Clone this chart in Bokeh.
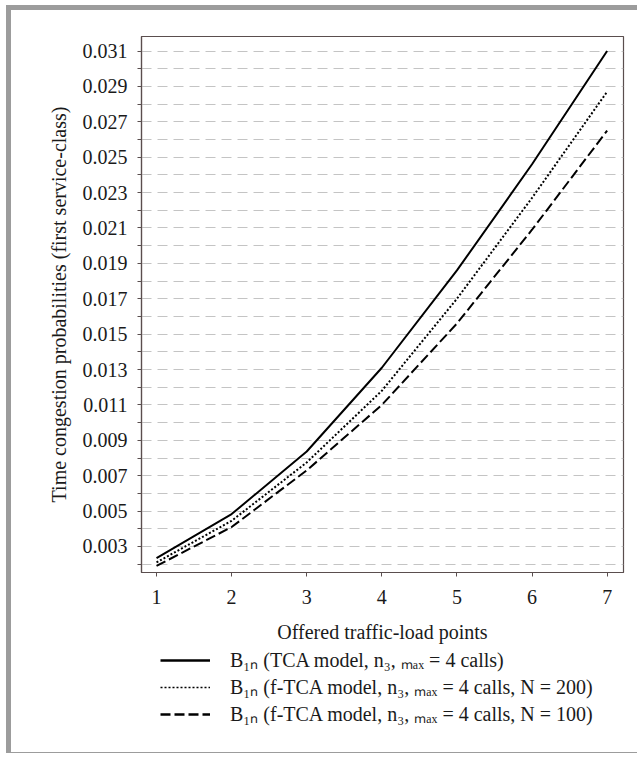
from bokeh.plotting import figure
from bokeh.layouts import column
from bokeh.models import FixedTicker, Legend, LegendItem, PrintfTickFormatter, Range1d
from bokeh.embed import file_html
from bokeh.resources import INLINE

# ---- data ----
load_points = [1, 2, 3, 4, 5, 6, 7]
b1n_tca = [0.00234, 0.00483, 0.00837, 0.0131, 0.0186, 0.0246, 0.0310]
b1n_ftca_n200 = [0.0021, 0.00445, 0.00775, 0.0118, 0.0170, 0.0227, 0.0287]
b1n_ftca_n100 = [0.0019, 0.0041, 0.0073, 0.0110, 0.0156, 0.0209, 0.0265]

x_ticks = [1, 2, 3, 4, 5, 6, 7]
y_major_ticks = [0.003, 0.005, 0.007, 0.009, 0.011, 0.013, 0.015, 0.017,
                 0.019, 0.021, 0.023, 0.025, 0.027, 0.029, 0.031]
y_minor_ticks = [0.002, 0.004, 0.006, 0.008, 0.010, 0.012, 0.014, 0.016,
                 0.018, 0.020, 0.022, 0.024, 0.026, 0.028, 0.030]

series_labels = [
    "B\u2081\u2099 (TCA model, n\u2083, \u2098\u2090\u2093 = 4 calls)",
    "B\u2081\u2099 (f-TCA model, n\u2083, \u2098\u2090\u2093 = 4 calls, N = 200)",
    "B\u2081\u2099 (f-TCA model, n\u2083, \u2098\u2090\u2093 = 4 calls, N = 100)",
]
x_title = "Offered traffic-load points"
y_title = "Time congestion probabilities (first service-class)"

FONT = "Liberation Serif"
TXT = "#1a1a1a"
AX = "#5a4e4e"
GREY = "#9c9c9c"
DASHES = ["solid", "2 2", "10 4"]

# ---------------- main chart ----------------
p = figure(frame_width=482, frame_height=536, output_backend="svg", toolbar_location=None,
           x_range=Range1d(0.8, 7.218), y_range=Range1d(0.00153, 0.03182),
           min_border_left=130, min_border_right=14, min_border_top=26,
           min_border_bottom=72)
p.background_fill_color = "white"
p.border_fill_color = "white"
p.outline_line_color = AX
p.outline_line_width = 1.2

p.xgrid.grid_line_color = None
p.ygrid.grid_line_color = "#c4c4c4"
p.ygrid.grid_line_dash = "10 6"
p.ygrid.grid_line_width = 1.2
p.ygrid.minor_grid_line_color = "#c4c4c4"
p.ygrid.minor_grid_line_dash = "10 6"
p.ygrid.minor_grid_line_width = 1.2

p.xaxis.ticker = FixedTicker(ticks=x_ticks)
p.yaxis.ticker = FixedTicker(ticks=y_major_ticks, minor_ticks=y_minor_ticks)
p.ygrid.ticker = p.yaxis.ticker
p.yaxis.formatter = PrintfTickFormatter(format="%.3f")
for ax in (p.xaxis, p.yaxis):
    ax.axis_line_color = AX
    ax.axis_line_width = 1.2
    ax.major_tick_line_color = AX
    ax.major_tick_in = 0
    ax.major_tick_out = 4
    ax.minor_tick_line_color = AX
    ax.minor_tick_in = 0
    ax.minor_tick_out = 4
    ax.major_label_text_font = FONT
    ax.major_label_text_font_size = "20px"
    ax.major_label_text_color = TXT
    ax.axis_label_text_font = FONT
    ax.axis_label_text_font_size = "20px"
    ax.axis_label_text_font_style = "normal"
    ax.axis_label_text_color = TXT
p.xaxis.minor_tick_line_color = None
p.xaxis.axis_label = x_title
p.yaxis.axis_label = y_title
p.xaxis.major_label_standoff = 13
p.xaxis.axis_label_standoff = 14
p.yaxis.major_label_standoff = 10
p.yaxis.axis_label_standoff = 10

series = [b1n_tca, b1n_ftca_n200, b1n_ftca_n100]
for ys, dash in zip(series, DASHES):
    p.line(load_points, ys, line_color="black", line_width=2, line_dash=dash)

# ---------------- legend strip below the chart ----------------
# (its frame is aligned with the chart's frame by the column layout; the
#  series are drawn again but fall outside its ranges, only the legend shows)
lg = figure(width=626, height=107, output_backend="svg", toolbar_location=None,
            x_range=Range1d(-20, -19), y_range=Range1d(0, 1),
            x_axis_type=None, y_axis_type=None,
            min_border_left=0, min_border_right=0, min_border_top=0, min_border_bottom=0)
lg.outline_line_color = None
lg.background_fill_color = "white"
lg.border_fill_color = "white"
lg.grid.visible = False
items = []
for ys, label, dash in zip(series, series_labels, DASHES):
    rr = lg.line(load_points, ys, line_color="black",
                 line_width=2.4 if dash != "2 2" else 1.6, line_dash=dash)
    items.append(LegendItem(label=label, renderers=[rr]))
legend = Legend(items=items, location=(19, 25), orientation="vertical")
legend.border_line_color = None
legend.background_fill_alpha = 0
legend.label_text_font = FONT
legend.label_text_font_size = "20px"
legend.label_text_color = TXT
legend.glyph_width = 50
legend.glyph_height = 20
legend.label_height = 20
legend.label_standoff = 20
legend.spacing = 0
legend.padding = 0
legend.margin = 0
lg.add_layout(legend, "center")

layout = column(p, lg, spacing=0)
layout.margin = (5, 0, 0, 6)
layout.styles = {"border-left": "5px solid " + GREY,
                 "border-top": "5px solid " + GREY,
                 "border-bottom": "1px solid " + GREY}

open("out.html", "w").write(file_html(layout, INLINE))
